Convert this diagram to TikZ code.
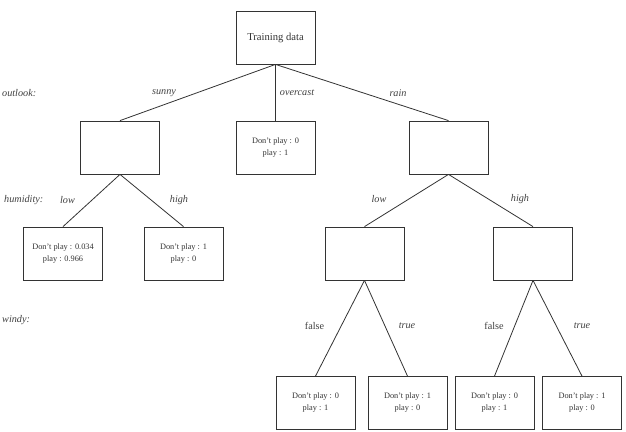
\documentclass[tikz,border=0pt]{standalone}
\usepackage{fontspec}
\setmainfont{Liberation Serif}
\begin{document}
\begin{tikzpicture}[x=1pt,y=-1pt,
  box/.style={draw=black!80,line width=0.8pt,rectangle,inner sep=0pt,
    minimum width=79pt,minimum height=53pt,align=center,text=black!80,
    font=\fontsize{8.3}{12}\selectfont},
  edge/.style={draw=black!80,line width=0.8pt},
  lab/.style={inner sep=0pt,text=black!75,font=\fontsize{10.2}{12}\selectfont\itshape},
  labup/.style={inner sep=0pt,text=black!75,font=\fontsize{10.2}{12}\selectfont},
  attr/.style={inner sep=0pt,anchor=west,text=black!75,font=\fontsize{10.2}{12}\selectfont\itshape}]
\useasboundingbox (0,0) rectangle (626,431);
% boxes
\node[box,font=\fontsize{10.6}{12}\selectfont] (root) at (275.5,37.5) {Training data};
\node[box] (sunny) at (120,147.5) {};
\node[box] (over) at (275.5,147.5) {Don't play : 0\\play : 1};
\node[box] (rain) at (448.5,147.5) {};
\node[box] (slow) at (63,253.5) {Don't play : 0.034\\play : 0.966};
\node[box] (shigh) at (183.5,253.5) {Don't play : 1\\play : 0};
\node[box] (rlow) at (364.5,253.5) {};
\node[box] (rhigh) at (533,253.5) {};
\node[box] (l1) at (315.5,403) {Don't play : 0\\play : 1};
\node[box] (l2) at (407.5,403) {Don't play : 1\\play : 0};
\node[box] (l3) at (494.5,403) {Don't play : 0\\play : 1};
\node[box] (l4) at (582,403) {Don't play : 1\\play : 0};
% edges
\draw[edge] (root.south) -- (sunny.north);
\draw[edge] (root.south) -- (over.north);
\draw[edge] (root.south) -- (rain.north);
\draw[edge] (sunny.south) -- (slow.north);
\draw[edge] (sunny.south) -- (shigh.north);
\draw[edge] (rain.south) -- (rlow.north);
\draw[edge] (rain.south) -- (rhigh.north);
\draw[edge] (rlow.south) -- (l1.north);
\draw[edge] (rlow.south) -- (l2.north);
\draw[edge] (rhigh.south) -- (l3.north);
\draw[edge] (rhigh.south) -- (l4.north);
% attribute labels
\node[attr] (aout) at (2,93) {outlook:};
\node[attr] (ahum) at (4,200) {humidity:};
\node[attr] (awin) at (2,320) {windy:};
% edge labels
\node[lab] (esunny) at (164,93) {sunny};
\node[lab] (eover) at (297,93) {overcast};
\node[lab] (erain) at (398,93) {rain};
\node[lab] (eslow) at (67.5,200) {low};
\node[lab] (eshigh) at (179,200) {high};
\node[lab] (erlow) at (379,199) {low};
\node[lab] (erhigh) at (520,199) {high};
\node[labup] (ef1) at (314.5,326) {false};
\node[lab] (et1) at (407,326) {true};
\node[labup] (ef2) at (494,326) {false};
\node[lab] (et2) at (582,326) {true};
\end{tikzpicture}
\end{document}
